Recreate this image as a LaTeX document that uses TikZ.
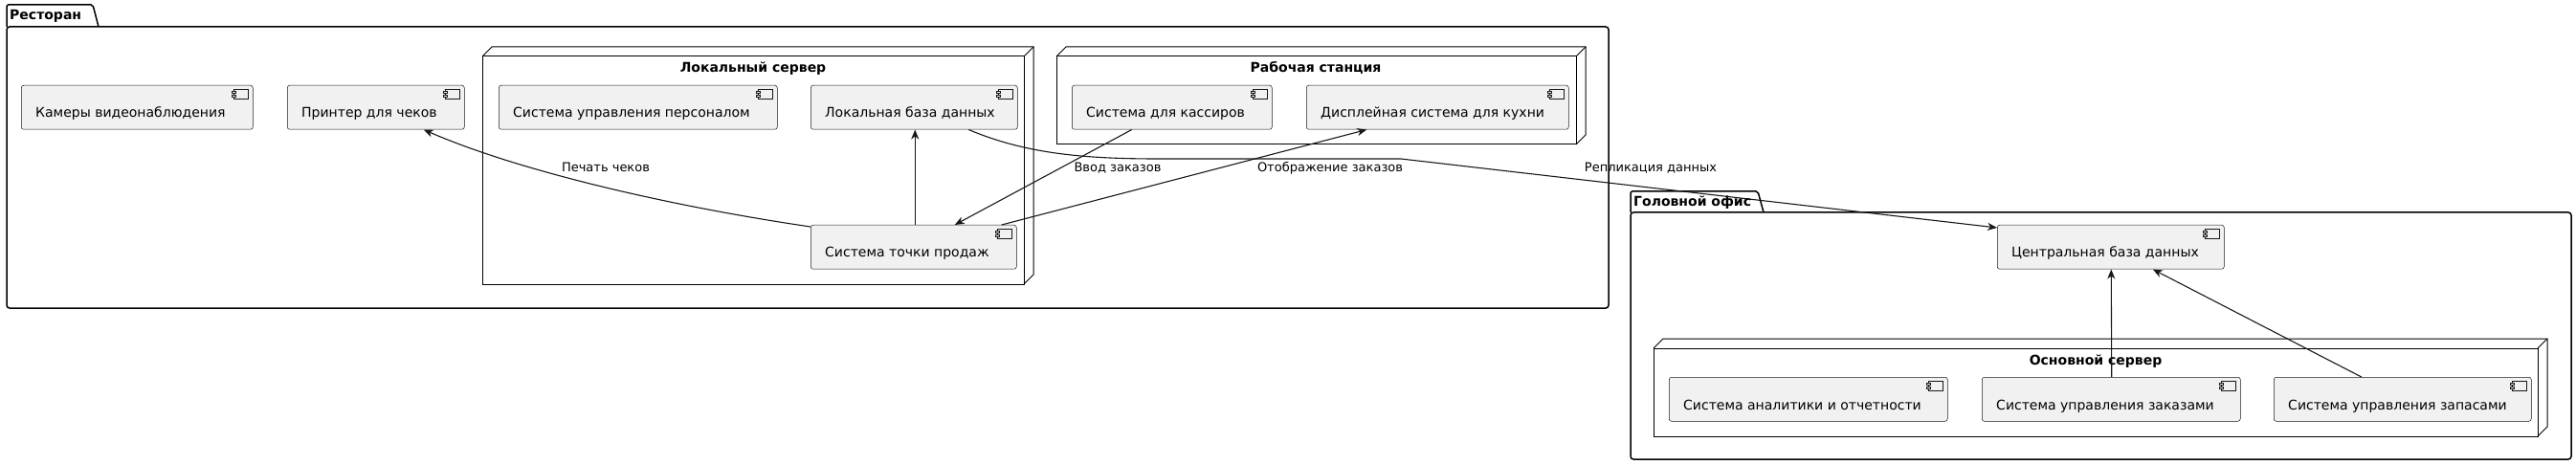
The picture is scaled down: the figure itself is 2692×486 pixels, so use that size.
\documentclass[tikz,border=0pt]{standalone}
\usepackage{fontspec}
\setmainfont{DejaVu Sans}
\usetikzlibrary{arrows.meta}
\definecolor{boxfill}{HTML}{F1F1F1}
\definecolor{linec}{HTML}{181818}
\tikzset{
  comp/.style={draw=linec, fill=boxfill, line width=0.5pt, rounded corners=2.5pt, inner sep=0pt, anchor=north west},
  ctext/.style={anchor=base west, inner sep=0pt, font=\fontsize{14}{16}\selectfont},
  ttl/.style={font=\fontsize{14}{16}\selectfont\bfseries, inner sep=0pt, anchor=base},
  ptl/.style={font=\fontsize{14}{16}\selectfont\bfseries, inner sep=0pt, anchor=base west},
  elabel/.style={font=\fontsize{13}{15}\selectfont, inner sep=0pt, anchor=base},
  conn/.style={draw=linec, line width=1.1pt, -{Stealth[length=10pt,width=8pt,inset=3pt]}},
  pkg/.style={draw=black, line width=1.5pt},
  nbox/.style={draw=black, line width=1pt},
  icon/.style={draw=linec, line width=0.5pt, fill=boxfill},
}
\newcommand\mycomp[6]{%
  \node[comp, minimum width={#4pt-#2pt}, minimum height={#5pt-#3pt}] (#1) at (#2,#3) {};
  \draw[icon] ([shift={(-20,4)}]#1.north east) rectangle +(15,10);
  \draw[icon] ([shift={(-22,6)}]#1.north east) rectangle +(4,2);
  \draw[icon] ([shift={(-22,10)}]#1.north east) rectangle +(4,2);
  \node[ctext] (#1t) at ([shift={(15,34)}]#1.north west) {#6};
}
\newcommand\mynode[4]{%
  \draw[nbox] (#1,#2) rectangle (#3,#4);
  \draw[nbox] (#1,#2) -- ++(10,-10) -- (#3+10,#2-10) -- (#3+10,#4-10) -- (#3,#4);
  \draw[nbox] (#3,#2) -- ++(10,-10);
}
\begin{document}
\begin{tikzpicture}[x=1pt,y=-1pt]
\useasboundingbox (0,0) rectangle (2692,486);
% packages
\draw[pkg, rounded corners=2pt] (7,28) -- (7,5) -- (97,5) -- (103,28);
\draw[pkg, rounded corners=3pt] (7,28) rectangle (1681,322);
\node[ptl] (p1) at (10,21) {Ресторан};
\draw[pkg, rounded corners=2pt] (1704,222) -- (1704,200) -- (1837,200) -- (1843,222);
\draw[pkg, rounded corners=3pt] (1704,222) rectangle (2687,480);
\node[ptl] (p2) at (1707,216) {Головной офис};
% 3D nodes
\mynode{504}{59}{1070}{297}
\node[ttl] (n1) at (787,76) {Локальный сервер};
\mynode{1104}{59}{1647}{151}
\node[ttl] (n2) at (1375,76) {Рабочая станция};
\mynode{1728}{364}{2652}{456}
\node[ttl] (n3) at (2190,381) {Основной сервер};
% components
\mycomp{cam}{22}{89}{264}{135}{Камеры видеонаблюдения}
\mycomp{printer}{300}{89}{485}{135}{Принтер для чеков}
\mycomp{staff}{521}{89}{812}{135}{Система управления персоналом}
\mycomp{localdb}{847}{89}{1063}{135}{Локальная база данных}
\mycomp{pos}{847}{235}{1062}{281}{Система точки продаж}
\mycomp{cashier}{1120}{89}{1329}{135}{Система для кассиров}
\mycomp{kitchen}{1365}{89}{1639}{135}{Дисплейная система для кухни}
\mycomp{central}{2087}{235}{2324}{281}{Центральная база данных}
\mycomp{analytics}{1744}{394}{2035}{440}{Система аналитики и отчетности}
\mycomp{orders}{2071}{394}{2341}{440}{Система управления заказами}
\mycomp{stock}{2376}{394}{2645}{440}{Система управления запасами}
% connectors
\draw[conn] ([shift={(0,2)}]pos.north west) .. controls (697,215) and (540,178) .. ([shift={(50,0)}]printer.south);
\node[elabel] (l1) at (633,180) {Печать чеков};
\draw[conn] ([shift={(1.5,0)}]pos.north) -- ([shift={(1,0)}]localdb.south);
\draw[conn] ([shift={(-42,0)}]cashier.south) -- ([shift={(43,0)}]pos.north);
\node[elabel] (l2) at (1168,180) {Ввод заказов};
\draw[conn] ([shift={(92,0)}]pos.north) -- ([shift={(-74,0)}]kitchen.south);
\node[elabel] (l3) at (1390,180) {Отображение заказов};
\draw[conn] ([shift={(57,0)}]localdb.south) .. controls (1070,160) and (1130,166) .. (1210,166) -- (1464,166) -- ([shift={(0,3)}]central.north west);
\node[elabel] (l4) at (1725,180) {Репликация данных};
\draw[conn] ([shift={(0.5,0)}]orders.north) -- ([shift={(0.5,0)}]central.south);
\draw[conn] ([shift={(-43,0)}]stock.north) -- ([shift={(44,0)}]central.south);
\end{tikzpicture}
\end{document}
